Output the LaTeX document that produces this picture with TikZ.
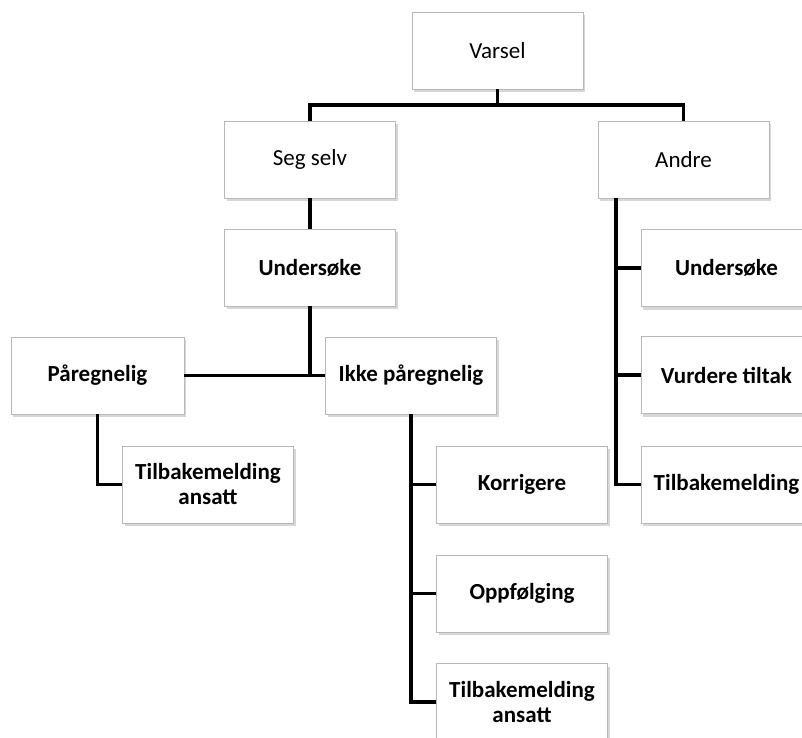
\documentclass[tikz,border=0pt]{standalone}
\usepackage{fontspec}
\setmainfont{Carlito}
\usetikzlibrary{shadows}

\tikzset{
  boks/.style={draw=gray!55, fill=white, thin, minimum width=171pt, minimum height=77pt,
    align=center, font=\fontsize{23}{25}\selectfont,
    drop shadow={shadow xshift=2pt, shadow yshift=-3pt, fill=gray!45, opacity=.7}},
  fet/.style={boks, font=\fontsize{23}{25}\selectfont\bfseries},
  linje/.style={line width=3.6pt, black}
}

\begin{document}
\begin{tikzpicture}[x=1pt, y=-1pt]
  \useasboundingbox (0,0) rectangle (802,737);
  % boksene
  \node[boks] (varsel) at (497.5,50.5) {Varsel};
  \node[boks] (segselv) at (310,159.5) {Seg selv};
  \node[boks] (andre) at (683.5,159.5) {Andre};
  \node[fet] (undersoke) at (310,267.5) {Undersøke};
  \node[fet, minimum width=173pt] (paregnelig) at (97.5,375.5) {Påregnelig};
  \node[fet] (ikke) at (411,375.5) {Ikke påregnelig};
  \node[fet] (tilbvenstre) at (208,484.5) {Tilbakemelding\\ansatt};
  \node[fet] (korrigere) at (522,484.5) {Korrigere};
  \node[fet] (oppfolging) at (522,593.5) {Oppfølging};
  \node[fet] (tilbnede) at (522,702) {Tilbakemelding\\ansatt};
  \node[fet] (undersoke2) at (726.5,268) {Undersøke};
  \node[fet] (vurdere) at (726.5,375) {Vurdere tiltak};
  \node[fet] (tilbhoyre) at (726.5,484.5) {Tilbakemelding};

  % linjene
  \coordinate (gren) at ([yshift=-16pt]varsel.south);
  \coordinate (andrefot) at ([xshift=18pt]andre.south west);
  \draw[linje] (varsel.south) -- (gren);
  \draw[linje] (segselv.north) |- (gren) -| (andre.north);
  \draw[linje] (segselv.south) -- (undersoke.north);
  \draw[linje] (undersoke.south) |- (ikke.west);
  \draw[linje] (paregnelig.east) -- (ikke.west);
  \draw[linje] (paregnelig.south) |- (tilbvenstre.west);
  \draw[linje] (ikke.south) |- (tilbnede.west);
  \draw[linje] (ikke.south) |- (korrigere.west);
  \draw[linje] (ikke.south) |- (oppfolging.west);
  \draw[linje] (andrefot) |- (tilbhoyre.west);
  \draw[linje] (andrefot) |- (undersoke2.west);
  \draw[linje] (andrefot) |- (vurdere.west);
\end{tikzpicture}
\end{document}
